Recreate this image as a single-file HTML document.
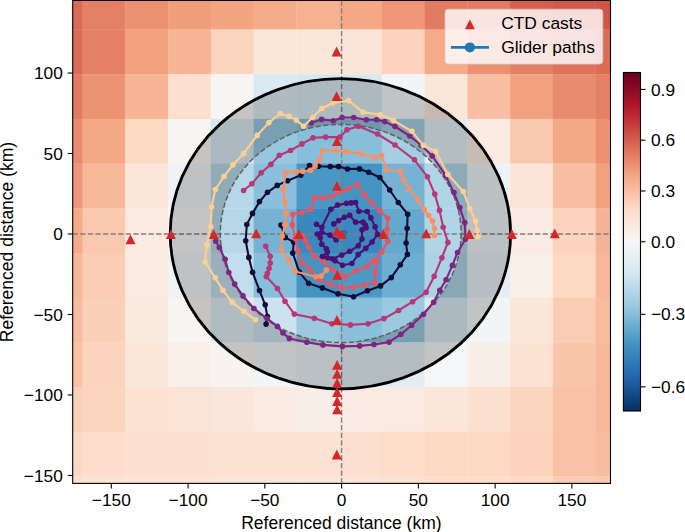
<!DOCTYPE html>
<html><head><meta charset="utf-8"><style>
html,body{margin:0;padding:0;background:#fff;}
body{width:685px;height:532px;overflow:hidden;}
svg{display:block;}
text{font-family:"Liberation Sans",sans-serif;fill:#000;}
</style></head><body>
<svg width="685" height="532" viewBox="0 0 685 532" font-family="Liberation Sans, sans-serif">
<rect width="685" height="532" fill="#fff"/>
<defs><clipPath id="ax"><rect x="72.7" y="0.4" width="537.8" height="483.0"/></clipPath></defs>
<g clip-path="url(#ax)">
<rect x="72.70" y="-0.60" width="10.20" height="30.40" fill="#db6b55"/>
<rect x="82.60" y="-0.60" width="43.05" height="30.40" fill="#e48066"/>
<rect x="125.35" y="-0.60" width="43.05" height="30.40" fill="#eb9172"/>
<rect x="168.10" y="-0.60" width="43.05" height="30.40" fill="#f19e7d"/>
<rect x="210.85" y="-0.60" width="43.05" height="30.40" fill="#f3a481"/>
<rect x="253.60" y="-0.60" width="43.05" height="30.40" fill="#f5ac8b"/>
<rect x="296.35" y="-0.60" width="43.05" height="30.40" fill="#f6b191"/>
<rect x="339.10" y="-0.60" width="43.05" height="30.40" fill="#f5a886"/>
<rect x="381.85" y="-0.60" width="43.05" height="30.40" fill="#ee9677"/>
<rect x="424.60" y="-0.60" width="43.05" height="30.40" fill="#e27b62"/>
<rect x="467.35" y="-0.60" width="43.05" height="30.40" fill="#e27b62"/>
<rect x="510.10" y="-0.60" width="43.05" height="30.40" fill="#d6604d"/>
<rect x="552.85" y="-0.60" width="43.05" height="30.40" fill="#d25849"/>
<rect x="595.60" y="-0.60" width="15.20" height="30.40" fill="#d05548"/>
<rect x="72.70" y="29.50" width="10.20" height="44.99" fill="#db6b55"/>
<rect x="82.60" y="29.50" width="43.05" height="44.99" fill="#e48066"/>
<rect x="125.35" y="29.50" width="43.05" height="44.99" fill="#f2a17f"/>
<rect x="168.10" y="29.50" width="43.05" height="44.99" fill="#f7b596"/>
<rect x="210.85" y="29.50" width="43.05" height="44.99" fill="#fcd5bf"/>
<rect x="253.60" y="29.50" width="43.05" height="44.99" fill="#fbe6da"/>
<rect x="296.35" y="29.50" width="43.05" height="44.99" fill="#fbe6da"/>
<rect x="339.10" y="29.50" width="43.05" height="44.99" fill="#fbe5d8"/>
<rect x="381.85" y="29.50" width="43.05" height="44.99" fill="#fcd3bc"/>
<rect x="424.60" y="29.50" width="43.05" height="44.99" fill="#f5aa89"/>
<rect x="467.35" y="29.50" width="43.05" height="44.99" fill="#eb9172"/>
<rect x="510.10" y="29.50" width="43.05" height="44.99" fill="#e48066"/>
<rect x="552.85" y="29.50" width="43.05" height="44.99" fill="#de735c"/>
<rect x="595.60" y="29.50" width="15.20" height="44.99" fill="#db6b55"/>
<rect x="72.70" y="74.19" width="10.20" height="44.99" fill="#e27b62"/>
<rect x="82.60" y="74.19" width="43.05" height="44.99" fill="#ec9374"/>
<rect x="125.35" y="74.19" width="43.05" height="44.99" fill="#f7b596"/>
<rect x="168.10" y="74.19" width="43.05" height="44.99" fill="#fcdfcf"/>
<rect x="210.85" y="74.19" width="43.05" height="44.99" fill="#f7f5f4"/>
<rect x="253.60" y="74.19" width="43.05" height="44.99" fill="#dbeaf2"/>
<rect x="296.35" y="74.19" width="43.05" height="44.99" fill="#d7e8f1"/>
<rect x="339.10" y="74.19" width="43.05" height="44.99" fill="#d8e9f1"/>
<rect x="381.85" y="74.19" width="43.05" height="44.99" fill="#f2f5f6"/>
<rect x="424.60" y="74.19" width="43.05" height="44.99" fill="#fbe6da"/>
<rect x="467.35" y="74.19" width="43.05" height="44.99" fill="#f8bfa4"/>
<rect x="510.10" y="74.19" width="43.05" height="44.99" fill="#f2a17f"/>
<rect x="552.85" y="74.19" width="43.05" height="44.99" fill="#e98b6e"/>
<rect x="595.60" y="74.19" width="15.20" height="44.99" fill="#e48066"/>
<rect x="72.70" y="118.88" width="10.20" height="44.99" fill="#e98b6e"/>
<rect x="82.60" y="118.88" width="43.05" height="44.99" fill="#f5a886"/>
<rect x="125.35" y="118.88" width="43.05" height="44.99" fill="#fdd9c4"/>
<rect x="168.10" y="118.88" width="43.05" height="44.99" fill="#f8f4f2"/>
<rect x="210.85" y="118.88" width="43.05" height="44.99" fill="#d7e8f1"/>
<rect x="253.60" y="118.88" width="43.05" height="44.99" fill="#96c7df"/>
<rect x="296.35" y="118.88" width="43.05" height="44.99" fill="#87beda"/>
<rect x="339.10" y="118.88" width="43.05" height="44.99" fill="#87beda"/>
<rect x="381.85" y="118.88" width="43.05" height="44.99" fill="#a5cee3"/>
<rect x="424.60" y="118.88" width="43.05" height="44.99" fill="#e1edf3"/>
<rect x="467.35" y="118.88" width="43.05" height="44.99" fill="#faeae1"/>
<rect x="510.10" y="118.88" width="43.05" height="44.99" fill="#fac8af"/>
<rect x="552.85" y="118.88" width="43.05" height="44.99" fill="#f5a886"/>
<rect x="595.60" y="118.88" width="15.20" height="44.99" fill="#eb9172"/>
<rect x="72.70" y="163.57" width="10.20" height="44.99" fill="#ee9677"/>
<rect x="82.60" y="163.57" width="43.05" height="44.99" fill="#f7b799"/>
<rect x="125.35" y="163.57" width="43.05" height="44.99" fill="#fbe6da"/>
<rect x="168.10" y="163.57" width="43.05" height="44.99" fill="#eff3f5"/>
<rect x="210.85" y="163.57" width="43.05" height="44.99" fill="#b6d7e8"/>
<rect x="253.60" y="163.57" width="43.05" height="44.99" fill="#8ac0db"/>
<rect x="296.35" y="163.57" width="43.05" height="44.99" fill="#4997c5"/>
<rect x="339.10" y="163.57" width="43.05" height="44.99" fill="#4393c3"/>
<rect x="381.85" y="163.57" width="43.05" height="44.99" fill="#75b2d4"/>
<rect x="424.60" y="163.57" width="43.05" height="44.99" fill="#b1d5e7"/>
<rect x="467.35" y="163.57" width="43.05" height="44.99" fill="#ecf2f5"/>
<rect x="510.10" y="163.57" width="43.05" height="44.99" fill="#fbe5d8"/>
<rect x="552.85" y="163.57" width="43.05" height="44.99" fill="#f8bfa4"/>
<rect x="595.60" y="163.57" width="15.20" height="44.99" fill="#f2a17f"/>
<rect x="72.70" y="208.26" width="10.20" height="44.99" fill="#f5aa89"/>
<rect x="82.60" y="208.26" width="43.05" height="44.99" fill="#fac8af"/>
<rect x="125.35" y="208.26" width="43.05" height="44.99" fill="#faeae1"/>
<rect x="168.10" y="208.26" width="43.05" height="44.99" fill="#f7f6f6"/>
<rect x="210.85" y="208.26" width="43.05" height="44.99" fill="#b6d7e8"/>
<rect x="253.60" y="208.26" width="43.05" height="44.99" fill="#75b2d4"/>
<rect x="296.35" y="208.26" width="43.05" height="44.99" fill="#3b88be"/>
<rect x="339.10" y="208.26" width="43.05" height="44.99" fill="#3b88be"/>
<rect x="381.85" y="208.26" width="43.05" height="44.99" fill="#65a9cf"/>
<rect x="424.60" y="208.26" width="43.05" height="44.99" fill="#b1d5e7"/>
<rect x="467.35" y="208.26" width="43.05" height="44.99" fill="#e9f0f4"/>
<rect x="510.10" y="208.26" width="43.05" height="44.99" fill="#f9ebe3"/>
<rect x="552.85" y="208.26" width="43.05" height="44.99" fill="#fcd3bc"/>
<rect x="595.60" y="208.26" width="15.20" height="44.99" fill="#f6b394"/>
<rect x="72.70" y="252.95" width="10.20" height="44.99" fill="#f7b799"/>
<rect x="82.60" y="252.95" width="43.05" height="44.99" fill="#fbccb4"/>
<rect x="125.35" y="252.95" width="43.05" height="44.99" fill="#faeae1"/>
<rect x="168.10" y="252.95" width="43.05" height="44.99" fill="#eff3f5"/>
<rect x="210.85" y="252.95" width="43.05" height="44.99" fill="#c2ddec"/>
<rect x="253.60" y="252.95" width="43.05" height="44.99" fill="#87beda"/>
<rect x="296.35" y="252.95" width="43.05" height="44.99" fill="#4393c3"/>
<rect x="339.10" y="252.95" width="43.05" height="44.99" fill="#4c99c6"/>
<rect x="381.85" y="252.95" width="43.05" height="44.99" fill="#6eaed2"/>
<rect x="424.60" y="252.95" width="43.05" height="44.99" fill="#acd2e5"/>
<rect x="467.35" y="252.95" width="43.05" height="44.99" fill="#e4eef4"/>
<rect x="510.10" y="252.95" width="43.05" height="44.99" fill="#f9efe9"/>
<rect x="552.85" y="252.95" width="43.05" height="44.99" fill="#fdd9c4"/>
<rect x="595.60" y="252.95" width="15.20" height="44.99" fill="#f7b799"/>
<rect x="72.70" y="297.64" width="10.20" height="44.99" fill="#f8bda1"/>
<rect x="82.60" y="297.64" width="43.05" height="44.99" fill="#fbd0b9"/>
<rect x="125.35" y="297.64" width="43.05" height="44.99" fill="#fae9df"/>
<rect x="168.10" y="297.64" width="43.05" height="44.99" fill="#f8f4f2"/>
<rect x="210.85" y="297.64" width="43.05" height="44.99" fill="#deebf2"/>
<rect x="253.60" y="297.64" width="43.05" height="44.99" fill="#cce2ef"/>
<rect x="296.35" y="297.64" width="43.05" height="44.99" fill="#9bc9e0"/>
<rect x="339.10" y="297.64" width="43.05" height="44.99" fill="#8ac0db"/>
<rect x="381.85" y="297.64" width="43.05" height="44.99" fill="#9bc9e0"/>
<rect x="424.60" y="297.64" width="43.05" height="44.99" fill="#d7e8f1"/>
<rect x="467.35" y="297.64" width="43.05" height="44.99" fill="#f2f5f6"/>
<rect x="510.10" y="297.64" width="43.05" height="44.99" fill="#fbe6da"/>
<rect x="552.85" y="297.64" width="43.05" height="44.99" fill="#fbccb4"/>
<rect x="595.60" y="297.64" width="15.20" height="44.99" fill="#f8bb9e"/>
<rect x="72.70" y="342.33" width="10.20" height="44.99" fill="#f9c2a7"/>
<rect x="82.60" y="342.33" width="43.05" height="44.99" fill="#fcd3bc"/>
<rect x="125.35" y="342.33" width="43.05" height="44.99" fill="#fbe6da"/>
<rect x="168.10" y="342.33" width="43.05" height="44.99" fill="#f9efe9"/>
<rect x="210.85" y="342.33" width="43.05" height="44.99" fill="#f8f3f0"/>
<rect x="253.60" y="342.33" width="43.05" height="44.99" fill="#f2f5f6"/>
<rect x="296.35" y="342.33" width="43.05" height="44.99" fill="#e9f0f4"/>
<rect x="339.10" y="342.33" width="43.05" height="44.99" fill="#e1edf3"/>
<rect x="381.85" y="342.33" width="43.05" height="44.99" fill="#e1edf3"/>
<rect x="424.60" y="342.33" width="43.05" height="44.99" fill="#f5f6f7"/>
<rect x="467.35" y="342.33" width="43.05" height="44.99" fill="#f9eee7"/>
<rect x="510.10" y="342.33" width="43.05" height="44.99" fill="#fce2d2"/>
<rect x="552.85" y="342.33" width="43.05" height="44.99" fill="#f9c6ac"/>
<rect x="595.60" y="342.33" width="15.20" height="44.99" fill="#f7b799"/>
<rect x="72.70" y="387.02" width="10.20" height="44.99" fill="#fbd0b9"/>
<rect x="82.60" y="387.02" width="43.05" height="44.99" fill="#fcd5bf"/>
<rect x="125.35" y="387.02" width="43.05" height="44.99" fill="#fce2d2"/>
<rect x="168.10" y="387.02" width="43.05" height="44.99" fill="#fbe4d6"/>
<rect x="210.85" y="387.02" width="43.05" height="44.99" fill="#fae7dc"/>
<rect x="253.60" y="387.02" width="43.05" height="44.99" fill="#faeae1"/>
<rect x="296.35" y="387.02" width="43.05" height="44.99" fill="#f9eee7"/>
<rect x="339.10" y="387.02" width="43.05" height="44.99" fill="#f9ebe3"/>
<rect x="381.85" y="387.02" width="43.05" height="44.99" fill="#faeae1"/>
<rect x="424.60" y="387.02" width="43.05" height="44.99" fill="#fbe6da"/>
<rect x="467.35" y="387.02" width="43.05" height="44.99" fill="#fce0d0"/>
<rect x="510.10" y="387.02" width="43.05" height="44.99" fill="#fcd5bf"/>
<rect x="552.85" y="387.02" width="43.05" height="44.99" fill="#f9c2a7"/>
<rect x="595.60" y="387.02" width="15.20" height="44.99" fill="#f7b799"/>
<rect x="72.70" y="431.71" width="10.20" height="44.99" fill="#fdd9c4"/>
<rect x="82.60" y="431.71" width="43.05" height="44.99" fill="#fdddcb"/>
<rect x="125.35" y="431.71" width="43.05" height="44.99" fill="#fcdfcf"/>
<rect x="168.10" y="431.71" width="43.05" height="44.99" fill="#fce0d0"/>
<rect x="210.85" y="431.71" width="43.05" height="44.99" fill="#fce2d2"/>
<rect x="253.60" y="431.71" width="43.05" height="44.99" fill="#fce2d2"/>
<rect x="296.35" y="431.71" width="43.05" height="44.99" fill="#fce2d2"/>
<rect x="339.10" y="431.71" width="43.05" height="44.99" fill="#fcdfcf"/>
<rect x="381.85" y="431.71" width="43.05" height="44.99" fill="#fddcc9"/>
<rect x="424.60" y="431.71" width="43.05" height="44.99" fill="#fdd9c4"/>
<rect x="467.35" y="431.71" width="43.05" height="44.99" fill="#fdd9c4"/>
<rect x="510.10" y="431.71" width="43.05" height="44.99" fill="#fcd3bc"/>
<rect x="552.85" y="431.71" width="43.05" height="44.99" fill="#f9c2a7"/>
<rect x="595.60" y="431.71" width="15.20" height="44.99" fill="#f8bda1"/>
<rect x="72.70" y="476.40" width="10.20" height="7.30" fill="#fcdfcf"/>
<rect x="82.60" y="476.40" width="43.05" height="7.30" fill="#fce2d2"/>
<rect x="125.35" y="476.40" width="43.05" height="7.30" fill="#fbe4d6"/>
<rect x="168.10" y="476.40" width="43.05" height="7.30" fill="#fbe4d6"/>
<rect x="210.85" y="476.40" width="43.05" height="7.30" fill="#fbe5d8"/>
<rect x="253.60" y="476.40" width="43.05" height="7.30" fill="#fbe5d8"/>
<rect x="296.35" y="476.40" width="43.05" height="7.30" fill="#fbe5d8"/>
<rect x="339.10" y="476.40" width="43.05" height="7.30" fill="#fbe4d6"/>
<rect x="381.85" y="476.40" width="43.05" height="7.30" fill="#fce0d0"/>
<rect x="424.60" y="476.40" width="43.05" height="7.30" fill="#fdddcb"/>
<rect x="467.35" y="476.40" width="43.05" height="7.30" fill="#fdddcb"/>
<rect x="510.10" y="476.40" width="43.05" height="7.30" fill="#fddbc7"/>
<rect x="552.85" y="476.40" width="43.05" height="7.30" fill="#fbccb4"/>
<rect x="595.60" y="476.40" width="15.20" height="7.30" fill="#fac8af"/>
<line x1="341.6" y1="483.4" x2="341.6" y2="0.4" stroke="#808080" stroke-width="1.43" stroke-dasharray="5.29 2.29" stroke-dashoffset="0"/>
<line x1="72.7" y1="234.0" x2="610.5" y2="234.0" stroke="#808080" stroke-width="1.43" stroke-dasharray="5.29 2.29" stroke-dashoffset="0"/>
<path d="M170.20,233.75 A170.20,155.05 0 1,0 510.60,233.75 A170.20,155.05 0 1,0 170.20,233.75 Z M220.30,233.50 A120.40,109.10 0 1,0 461.10,233.50 A120.40,109.10 0 1,0 220.30,233.50 Z" fill-rule="evenodd" fill="#000000" fill-opacity="0.2"/>
<ellipse cx="340.7" cy="233.5" rx="120.4" ry="109.1" fill="none" stroke="#606060" stroke-width="1.5" stroke-dasharray="5.29 2.29"/>
<ellipse cx="340.4" cy="233.75" rx="170.2" ry="155.05" fill="none" stroke="#000" stroke-width="2.8"/>
<polyline points="281.0,225.1 285.2,237.4 293.7,242.1 292.8,253.1 299.3,272.1 308.6,283.3 322.4,287.9 338.0,293.8 353.6,296.8 367.4,290.8 380.5,285.9 391.3,277.6 400.3,264.8 407.4,254.4 406.1,243.0 407.1,228.3 407.7,214.2 398.3,202.5 389.7,190.0 379.9,177.5 368.7,172.2 359.5,168.9 347.5,169.0 338.6,166.6 330.3,166.6 318.4,166.3 309.5,165.6 300.8,175.1 287.6,180.8 277.3,185.4 267.5,192.3 259.5,201.6 252.5,213.4 246.8,224.5 245.7,240.8 248.8,257.4 252.6,272.3 259.5,290.5 265.2,304.8 267.4,316.6 266.1,324.1" fill="none" stroke="#140e36" stroke-width="2.1" stroke-linejoin="round" stroke-linecap="round"/>
<circle cx="281.0" cy="225.1" r="2.8" fill="#140e36"/>
<circle cx="285.2" cy="237.4" r="2.8" fill="#140e36"/>
<circle cx="293.7" cy="242.1" r="2.8" fill="#140e36"/>
<circle cx="292.8" cy="253.1" r="2.8" fill="#140e36"/>
<circle cx="299.3" cy="272.1" r="2.8" fill="#140e36"/>
<circle cx="308.6" cy="283.3" r="2.8" fill="#140e36"/>
<circle cx="322.4" cy="287.9" r="2.8" fill="#140e36"/>
<circle cx="338.0" cy="293.8" r="2.8" fill="#140e36"/>
<circle cx="353.6" cy="296.8" r="2.8" fill="#140e36"/>
<circle cx="367.4" cy="290.8" r="2.8" fill="#140e36"/>
<circle cx="380.5" cy="285.9" r="2.8" fill="#140e36"/>
<circle cx="391.3" cy="277.6" r="2.8" fill="#140e36"/>
<circle cx="400.3" cy="264.8" r="2.8" fill="#140e36"/>
<circle cx="407.4" cy="254.4" r="2.8" fill="#140e36"/>
<circle cx="406.1" cy="243.0" r="2.8" fill="#140e36"/>
<circle cx="407.1" cy="228.3" r="2.8" fill="#140e36"/>
<circle cx="407.7" cy="214.2" r="2.8" fill="#140e36"/>
<circle cx="398.3" cy="202.5" r="2.8" fill="#140e36"/>
<circle cx="389.7" cy="190.0" r="2.8" fill="#140e36"/>
<circle cx="379.9" cy="177.5" r="2.8" fill="#140e36"/>
<circle cx="368.7" cy="172.2" r="2.8" fill="#140e36"/>
<circle cx="359.5" cy="168.9" r="2.8" fill="#140e36"/>
<circle cx="347.5" cy="169.0" r="2.8" fill="#140e36"/>
<circle cx="338.6" cy="166.6" r="2.8" fill="#140e36"/>
<circle cx="330.3" cy="166.6" r="2.8" fill="#140e36"/>
<circle cx="318.4" cy="166.3" r="2.8" fill="#140e36"/>
<circle cx="309.5" cy="165.6" r="2.8" fill="#140e36"/>
<circle cx="300.8" cy="175.1" r="2.8" fill="#140e36"/>
<circle cx="287.6" cy="180.8" r="2.8" fill="#140e36"/>
<circle cx="277.3" cy="185.4" r="2.8" fill="#140e36"/>
<circle cx="267.5" cy="192.3" r="2.8" fill="#140e36"/>
<circle cx="259.5" cy="201.6" r="2.8" fill="#140e36"/>
<circle cx="252.5" cy="213.4" r="2.8" fill="#140e36"/>
<circle cx="246.8" cy="224.5" r="2.8" fill="#140e36"/>
<circle cx="245.7" cy="240.8" r="2.8" fill="#140e36"/>
<circle cx="248.8" cy="257.4" r="2.8" fill="#140e36"/>
<circle cx="252.6" cy="272.3" r="2.8" fill="#140e36"/>
<circle cx="259.5" cy="290.5" r="2.8" fill="#140e36"/>
<circle cx="265.2" cy="304.8" r="2.8" fill="#140e36"/>
<circle cx="267.4" cy="316.6" r="2.8" fill="#140e36"/>
<circle cx="266.1" cy="324.1" r="2.8" fill="#140e36"/>
<polyline points="333.8,223.9 338.7,220.6 344.3,217.2 349.6,215.3 355.5,222.1 363.0,222.1 365.3,225.1 366.1,227.7 362.0,229.7 362.0,239.0 358.2,245.8 349.7,251.3 341.7,255.1 332.3,258.8 322.5,256.6 327.4,252.1 326.3,248.7 321.8,244.2 320.3,237.8 317.3,234.0 321.8,232.5 330.0,235.1 336.1,240.0" fill="none" stroke="#491078" stroke-width="2.1" stroke-linejoin="round" stroke-linecap="round"/>
<circle cx="333.8" cy="223.9" r="2.8" fill="#491078"/>
<circle cx="338.7" cy="220.6" r="2.8" fill="#491078"/>
<circle cx="344.3" cy="217.2" r="2.8" fill="#491078"/>
<circle cx="349.6" cy="215.3" r="2.8" fill="#491078"/>
<circle cx="355.5" cy="222.1" r="2.8" fill="#491078"/>
<circle cx="363.0" cy="222.1" r="2.8" fill="#491078"/>
<circle cx="365.3" cy="225.1" r="2.8" fill="#491078"/>
<circle cx="366.1" cy="227.7" r="2.8" fill="#491078"/>
<circle cx="362.0" cy="229.7" r="2.8" fill="#491078"/>
<circle cx="362.0" cy="239.0" r="2.8" fill="#491078"/>
<circle cx="358.2" cy="245.8" r="2.8" fill="#491078"/>
<circle cx="349.7" cy="251.3" r="2.8" fill="#491078"/>
<circle cx="341.7" cy="255.1" r="2.8" fill="#491078"/>
<circle cx="332.3" cy="258.8" r="2.8" fill="#491078"/>
<circle cx="322.5" cy="256.6" r="2.8" fill="#491078"/>
<circle cx="327.4" cy="252.1" r="2.8" fill="#491078"/>
<circle cx="326.3" cy="248.7" r="2.8" fill="#491078"/>
<circle cx="321.8" cy="244.2" r="2.8" fill="#491078"/>
<circle cx="320.3" cy="237.8" r="2.8" fill="#491078"/>
<circle cx="317.3" cy="234.0" r="2.8" fill="#491078"/>
<circle cx="321.8" cy="232.5" r="2.8" fill="#491078"/>
<circle cx="330.0" cy="235.1" r="2.8" fill="#491078"/>
<circle cx="336.1" cy="240.0" r="2.8" fill="#491078"/>
<polyline points="316.5,224.3 321.8,227.3 330.8,209.3 337.6,205.1 346.5,203.3 351.1,202.9 355.5,202.5 358.9,211.2 367.2,211.5 370.9,217.9 375.1,226.9 377.6,234.3 372.1,242.0 365.8,248.3 358.2,254.6 351.8,263.5 342.5,265.2 335.1,260.7 327.6,257.7 322.5,256.6" fill="none" stroke="#491078" stroke-width="2.1" stroke-linejoin="round" stroke-linecap="round"/>
<circle cx="316.5" cy="224.3" r="2.8" fill="#491078"/>
<circle cx="321.8" cy="227.3" r="2.8" fill="#491078"/>
<circle cx="330.8" cy="209.3" r="2.8" fill="#491078"/>
<circle cx="337.6" cy="205.1" r="2.8" fill="#491078"/>
<circle cx="346.5" cy="203.3" r="2.8" fill="#491078"/>
<circle cx="351.1" cy="202.9" r="2.8" fill="#491078"/>
<circle cx="355.5" cy="202.5" r="2.8" fill="#491078"/>
<circle cx="358.9" cy="211.2" r="2.8" fill="#491078"/>
<circle cx="367.2" cy="211.5" r="2.8" fill="#491078"/>
<circle cx="370.9" cy="217.9" r="2.8" fill="#491078"/>
<circle cx="375.1" cy="226.9" r="2.8" fill="#491078"/>
<circle cx="377.6" cy="234.3" r="2.8" fill="#491078"/>
<circle cx="372.1" cy="242.0" r="2.8" fill="#491078"/>
<circle cx="365.8" cy="248.3" r="2.8" fill="#491078"/>
<circle cx="358.2" cy="254.6" r="2.8" fill="#491078"/>
<circle cx="351.8" cy="263.5" r="2.8" fill="#491078"/>
<circle cx="342.5" cy="265.2" r="2.8" fill="#491078"/>
<circle cx="335.1" cy="260.7" r="2.8" fill="#491078"/>
<circle cx="327.6" cy="257.7" r="2.8" fill="#491078"/>
<circle cx="322.5" cy="256.6" r="2.8" fill="#491078"/>
<polyline points="311.1,122.9 321.6,119.4 333.4,120.7 342.1,117.5 353.7,117.5 366.3,119.8 376.5,119.7 384.7,121.6 395.0,126.5 409.8,136.0 421.2,145.3 432.2,155.9 445.3,175.0 454.0,192.6 459.8,207.6 464.8,222.6 465.4,239.2 457.5,252.5 452.4,265.4 446.1,279.7 439.8,290.4 433.6,302.3 423.5,314.3 411.7,325.2 400.9,334.2 389.1,342.1 374.0,344.5 359.7,345.9 342.4,346.4 322.9,344.9 306.8,342.3 289.3,338.4 283.0,333.0 277.4,326.4 267.1,318.5 253.9,308.5 243.0,295.9 234.7,284.1 228.8,272.5 225.1,259.3 219.3,247.4 215.8,241.3" fill="none" stroke="#7e2482" stroke-width="2.1" stroke-linejoin="round" stroke-linecap="round"/>
<circle cx="311.1" cy="122.9" r="2.8" fill="#7e2482"/>
<circle cx="321.6" cy="119.4" r="2.8" fill="#7e2482"/>
<circle cx="333.4" cy="120.7" r="2.8" fill="#7e2482"/>
<circle cx="342.1" cy="117.5" r="2.8" fill="#7e2482"/>
<circle cx="353.7" cy="117.5" r="2.8" fill="#7e2482"/>
<circle cx="366.3" cy="119.8" r="2.8" fill="#7e2482"/>
<circle cx="376.5" cy="119.7" r="2.8" fill="#7e2482"/>
<circle cx="384.7" cy="121.6" r="2.8" fill="#7e2482"/>
<circle cx="395.0" cy="126.5" r="2.8" fill="#7e2482"/>
<circle cx="409.8" cy="136.0" r="2.8" fill="#7e2482"/>
<circle cx="421.2" cy="145.3" r="2.8" fill="#7e2482"/>
<circle cx="432.2" cy="155.9" r="2.8" fill="#7e2482"/>
<circle cx="445.3" cy="175.0" r="2.8" fill="#7e2482"/>
<circle cx="454.0" cy="192.6" r="2.8" fill="#7e2482"/>
<circle cx="459.8" cy="207.6" r="2.8" fill="#7e2482"/>
<circle cx="464.8" cy="222.6" r="2.8" fill="#7e2482"/>
<circle cx="465.4" cy="239.2" r="2.8" fill="#7e2482"/>
<circle cx="457.5" cy="252.5" r="2.8" fill="#7e2482"/>
<circle cx="452.4" cy="265.4" r="2.8" fill="#7e2482"/>
<circle cx="446.1" cy="279.7" r="2.8" fill="#7e2482"/>
<circle cx="439.8" cy="290.4" r="2.8" fill="#7e2482"/>
<circle cx="433.6" cy="302.3" r="2.8" fill="#7e2482"/>
<circle cx="423.5" cy="314.3" r="2.8" fill="#7e2482"/>
<circle cx="411.7" cy="325.2" r="2.8" fill="#7e2482"/>
<circle cx="400.9" cy="334.2" r="2.8" fill="#7e2482"/>
<circle cx="389.1" cy="342.1" r="2.8" fill="#7e2482"/>
<circle cx="374.0" cy="344.5" r="2.8" fill="#7e2482"/>
<circle cx="359.7" cy="345.9" r="2.8" fill="#7e2482"/>
<circle cx="342.4" cy="346.4" r="2.8" fill="#7e2482"/>
<circle cx="322.9" cy="344.9" r="2.8" fill="#7e2482"/>
<circle cx="306.8" cy="342.3" r="2.8" fill="#7e2482"/>
<circle cx="289.3" cy="338.4" r="2.8" fill="#7e2482"/>
<circle cx="283.0" cy="333.0" r="2.8" fill="#7e2482"/>
<circle cx="277.4" cy="326.4" r="2.8" fill="#7e2482"/>
<circle cx="267.1" cy="318.5" r="2.8" fill="#7e2482"/>
<circle cx="253.9" cy="308.5" r="2.8" fill="#7e2482"/>
<circle cx="243.0" cy="295.9" r="2.8" fill="#7e2482"/>
<circle cx="234.7" cy="284.1" r="2.8" fill="#7e2482"/>
<circle cx="228.8" cy="272.5" r="2.8" fill="#7e2482"/>
<circle cx="225.1" cy="259.3" r="2.8" fill="#7e2482"/>
<circle cx="219.3" cy="247.4" r="2.8" fill="#7e2482"/>
<circle cx="215.8" cy="241.3" r="2.8" fill="#7e2482"/>
<polyline points="243.6,190.5 251.9,183.7 261.2,172.7 270.9,164.4 279.3,155.2 290.5,150.5 301.9,143.9 313.0,137.8 325.7,137.1 340.0,137.1 347.0,129.8 358.3,126.3 377.5,134.0 395.0,145.0 414.4,159.8 427.4,176.7 434.8,194.1 439.5,210.4 443.2,227.3 447.9,242.4 441.9,257.7 434.2,276.3 426.1,292.3 412.6,301.7 398.5,310.5 384.0,318.6 368.0,323.8 350.4,324.9 331.9,323.8 314.3,318.3 294.3,314.1 285.0,301.2 277.5,288.5 266.3,276.6 267.4,273.2 269.1,268.2 270.2,263.1 270.2,256.3 265.7,246.2" fill="none" stroke="#b73779" stroke-width="2.1" stroke-linejoin="round" stroke-linecap="round"/>
<circle cx="243.6" cy="190.5" r="2.8" fill="#b73779"/>
<circle cx="251.9" cy="183.7" r="2.8" fill="#b73779"/>
<circle cx="261.2" cy="172.7" r="2.8" fill="#b73779"/>
<circle cx="270.9" cy="164.4" r="2.8" fill="#b73779"/>
<circle cx="279.3" cy="155.2" r="2.8" fill="#b73779"/>
<circle cx="290.5" cy="150.5" r="2.8" fill="#b73779"/>
<circle cx="301.9" cy="143.9" r="2.8" fill="#b73779"/>
<circle cx="313.0" cy="137.8" r="2.8" fill="#b73779"/>
<circle cx="325.7" cy="137.1" r="2.8" fill="#b73779"/>
<circle cx="340.0" cy="137.1" r="2.8" fill="#b73779"/>
<circle cx="347.0" cy="129.8" r="2.8" fill="#b73779"/>
<circle cx="358.3" cy="126.3" r="2.8" fill="#b73779"/>
<circle cx="377.5" cy="134.0" r="2.8" fill="#b73779"/>
<circle cx="395.0" cy="145.0" r="2.8" fill="#b73779"/>
<circle cx="414.4" cy="159.8" r="2.8" fill="#b73779"/>
<circle cx="427.4" cy="176.7" r="2.8" fill="#b73779"/>
<circle cx="434.8" cy="194.1" r="2.8" fill="#b73779"/>
<circle cx="439.5" cy="210.4" r="2.8" fill="#b73779"/>
<circle cx="443.2" cy="227.3" r="2.8" fill="#b73779"/>
<circle cx="447.9" cy="242.4" r="2.8" fill="#b73779"/>
<circle cx="441.9" cy="257.7" r="2.8" fill="#b73779"/>
<circle cx="434.2" cy="276.3" r="2.8" fill="#b73779"/>
<circle cx="426.1" cy="292.3" r="2.8" fill="#b73779"/>
<circle cx="412.6" cy="301.7" r="2.8" fill="#b73779"/>
<circle cx="398.5" cy="310.5" r="2.8" fill="#b73779"/>
<circle cx="384.0" cy="318.6" r="2.8" fill="#b73779"/>
<circle cx="368.0" cy="323.8" r="2.8" fill="#b73779"/>
<circle cx="350.4" cy="324.9" r="2.8" fill="#b73779"/>
<circle cx="331.9" cy="323.8" r="2.8" fill="#b73779"/>
<circle cx="314.3" cy="318.3" r="2.8" fill="#b73779"/>
<circle cx="294.3" cy="314.1" r="2.8" fill="#b73779"/>
<circle cx="285.0" cy="301.2" r="2.8" fill="#b73779"/>
<circle cx="277.5" cy="288.5" r="2.8" fill="#b73779"/>
<circle cx="266.3" cy="276.6" r="2.8" fill="#b73779"/>
<circle cx="267.4" cy="273.2" r="2.8" fill="#b73779"/>
<circle cx="269.1" cy="268.2" r="2.8" fill="#b73779"/>
<circle cx="270.2" cy="263.1" r="2.8" fill="#b73779"/>
<circle cx="270.2" cy="256.3" r="2.8" fill="#b73779"/>
<circle cx="265.7" cy="246.2" r="2.8" fill="#b73779"/>
<polyline points="303.0,236.0 305.3,240.7 308.6,247.1 313.8,255.7 324.3,262.2 333.6,270.1 345.4,276.7 356.2,270.8 366.7,266.8 373.3,260.9 381.8,251.7 387.8,241.2 387.1,229.5 387.8,218.3 379.9,211.1 371.3,202.5 364.1,194.6 357.5,184.5 348.0,188.7 339.5,192.0 330.9,196.6 321.6,197.9 314.3,197.9 310.9,209.2 302.0,212.6 292.8,214.3 292.3,224.9 295.1,238.5 298.0,251.1 302.6,263.6 309.9,269.5 318.4,279.3 330.3,283.9 341.4,287.9 352.9,287.2 364.1,285.3 374.6,282.6 375.3,272.1 376.6,261.6" fill="none" stroke="#e95462" stroke-width="2.1" stroke-linejoin="round" stroke-linecap="round"/>
<circle cx="303.0" cy="236.0" r="2.8" fill="#e95462"/>
<circle cx="305.3" cy="240.7" r="2.8" fill="#e95462"/>
<circle cx="308.6" cy="247.1" r="2.8" fill="#e95462"/>
<circle cx="313.8" cy="255.7" r="2.8" fill="#e95462"/>
<circle cx="324.3" cy="262.2" r="2.8" fill="#e95462"/>
<circle cx="333.6" cy="270.1" r="2.8" fill="#e95462"/>
<circle cx="345.4" cy="276.7" r="2.8" fill="#e95462"/>
<circle cx="356.2" cy="270.8" r="2.8" fill="#e95462"/>
<circle cx="366.7" cy="266.8" r="2.8" fill="#e95462"/>
<circle cx="373.3" cy="260.9" r="2.8" fill="#e95462"/>
<circle cx="381.8" cy="251.7" r="2.8" fill="#e95462"/>
<circle cx="387.8" cy="241.2" r="2.8" fill="#e95462"/>
<circle cx="387.1" cy="229.5" r="2.8" fill="#e95462"/>
<circle cx="387.8" cy="218.3" r="2.8" fill="#e95462"/>
<circle cx="379.9" cy="211.1" r="2.8" fill="#e95462"/>
<circle cx="371.3" cy="202.5" r="2.8" fill="#e95462"/>
<circle cx="364.1" cy="194.6" r="2.8" fill="#e95462"/>
<circle cx="357.5" cy="184.5" r="2.8" fill="#e95462"/>
<circle cx="348.0" cy="188.7" r="2.8" fill="#e95462"/>
<circle cx="339.5" cy="192.0" r="2.8" fill="#e95462"/>
<circle cx="330.9" cy="196.6" r="2.8" fill="#e95462"/>
<circle cx="321.6" cy="197.9" r="2.8" fill="#e95462"/>
<circle cx="314.3" cy="197.9" r="2.8" fill="#e95462"/>
<circle cx="310.9" cy="209.2" r="2.8" fill="#e95462"/>
<circle cx="302.0" cy="212.6" r="2.8" fill="#e95462"/>
<circle cx="292.8" cy="214.3" r="2.8" fill="#e95462"/>
<circle cx="292.3" cy="224.9" r="2.8" fill="#e95462"/>
<circle cx="295.1" cy="238.5" r="2.8" fill="#e95462"/>
<circle cx="298.0" cy="251.1" r="2.8" fill="#e95462"/>
<circle cx="302.6" cy="263.6" r="2.8" fill="#e95462"/>
<circle cx="309.9" cy="269.5" r="2.8" fill="#e95462"/>
<circle cx="318.4" cy="279.3" r="2.8" fill="#e95462"/>
<circle cx="330.3" cy="283.9" r="2.8" fill="#e95462"/>
<circle cx="341.4" cy="287.9" r="2.8" fill="#e95462"/>
<circle cx="352.9" cy="287.2" r="2.8" fill="#e95462"/>
<circle cx="364.1" cy="285.3" r="2.8" fill="#e95462"/>
<circle cx="374.6" cy="282.6" r="2.8" fill="#e95462"/>
<circle cx="375.3" cy="272.1" r="2.8" fill="#e95462"/>
<circle cx="376.6" cy="261.6" r="2.8" fill="#e95462"/>
<polyline points="434.4,235.4 434.4,228.6 432.5,221.1 428.6,215.5 424.4,209.8 417.9,199.7 408.6,188.2 403.5,179.5 400.7,171.2 386.7,169.7 381.6,155.3 374.3,157.8 360.9,153.6 346.4,151.6 335.0,150.5 322.6,150.5 319.5,159.8 315.1,166.1 310.5,170.3 302.6,171.3 296.7,171.8 285.5,172.9 283.6,189.3 284.9,201.2 285.8,213.0 284.8,224.7 282.3,236.1 281.4,249.7 288.5,260.0 295.2,271.5 315.8,276.7 321.1,276.1 326.3,270.1" fill="none" stroke="#fc9065" stroke-width="2.1" stroke-linejoin="round" stroke-linecap="round"/>
<circle cx="434.4" cy="235.4" r="2.8" fill="#fc9065"/>
<circle cx="434.4" cy="228.6" r="2.8" fill="#fc9065"/>
<circle cx="432.5" cy="221.1" r="2.8" fill="#fc9065"/>
<circle cx="428.6" cy="215.5" r="2.8" fill="#fc9065"/>
<circle cx="424.4" cy="209.8" r="2.8" fill="#fc9065"/>
<circle cx="417.9" cy="199.7" r="2.8" fill="#fc9065"/>
<circle cx="408.6" cy="188.2" r="2.8" fill="#fc9065"/>
<circle cx="403.5" cy="179.5" r="2.8" fill="#fc9065"/>
<circle cx="400.7" cy="171.2" r="2.8" fill="#fc9065"/>
<circle cx="386.7" cy="169.7" r="2.8" fill="#fc9065"/>
<circle cx="381.6" cy="155.3" r="2.8" fill="#fc9065"/>
<circle cx="374.3" cy="157.8" r="2.8" fill="#fc9065"/>
<circle cx="360.9" cy="153.6" r="2.8" fill="#fc9065"/>
<circle cx="346.4" cy="151.6" r="2.8" fill="#fc9065"/>
<circle cx="335.0" cy="150.5" r="2.8" fill="#fc9065"/>
<circle cx="322.6" cy="150.5" r="2.8" fill="#fc9065"/>
<circle cx="319.5" cy="159.8" r="2.8" fill="#fc9065"/>
<circle cx="315.1" cy="166.1" r="2.8" fill="#fc9065"/>
<circle cx="310.5" cy="170.3" r="2.8" fill="#fc9065"/>
<circle cx="302.6" cy="171.3" r="2.8" fill="#fc9065"/>
<circle cx="296.7" cy="171.8" r="2.8" fill="#fc9065"/>
<circle cx="285.5" cy="172.9" r="2.8" fill="#fc9065"/>
<circle cx="283.6" cy="189.3" r="2.8" fill="#fc9065"/>
<circle cx="284.9" cy="201.2" r="2.8" fill="#fc9065"/>
<circle cx="285.8" cy="213.0" r="2.8" fill="#fc9065"/>
<circle cx="284.8" cy="224.7" r="2.8" fill="#fc9065"/>
<circle cx="282.3" cy="236.1" r="2.8" fill="#fc9065"/>
<circle cx="281.4" cy="249.7" r="2.8" fill="#fc9065"/>
<circle cx="288.5" cy="260.0" r="2.8" fill="#fc9065"/>
<circle cx="295.2" cy="271.5" r="2.8" fill="#fc9065"/>
<circle cx="315.8" cy="276.7" r="2.8" fill="#fc9065"/>
<circle cx="321.1" cy="276.1" r="2.8" fill="#fc9065"/>
<circle cx="326.3" cy="270.1" r="2.8" fill="#fc9065"/>
<polyline points="255.4,319.8 244.1,311.4 232.3,302.3 222.9,290.3 215.2,277.7 205.0,261.9 206.9,245.1 210.7,226.7 211.6,207.0 215.3,189.5 224.0,176.5 232.9,165.0 243.6,153.6 257.1,135.4 268.9,122.6 280.2,113.5 289.1,116.4 296.3,120.1 303.6,126.3 312.9,117.2 321.8,108.5 332.8,103.0 348.5,100.6 363.0,112.1 380.2,114.8 393.5,120.3 411.9,131.3 423.3,145.3 435.7,151.6 447.8,174.2 463.3,191.5 469.9,208.5 475.6,221.1 477.1,230.5 478.0,236.7" fill="none" stroke="#fecf92" stroke-width="2.1" stroke-linejoin="round" stroke-linecap="round"/>
<circle cx="255.4" cy="319.8" r="2.8" fill="#fecf92"/>
<circle cx="244.1" cy="311.4" r="2.8" fill="#fecf92"/>
<circle cx="232.3" cy="302.3" r="2.8" fill="#fecf92"/>
<circle cx="222.9" cy="290.3" r="2.8" fill="#fecf92"/>
<circle cx="215.2" cy="277.7" r="2.8" fill="#fecf92"/>
<circle cx="205.0" cy="261.9" r="2.8" fill="#fecf92"/>
<circle cx="206.9" cy="245.1" r="2.8" fill="#fecf92"/>
<circle cx="210.7" cy="226.7" r="2.8" fill="#fecf92"/>
<circle cx="211.6" cy="207.0" r="2.8" fill="#fecf92"/>
<circle cx="215.3" cy="189.5" r="2.8" fill="#fecf92"/>
<circle cx="224.0" cy="176.5" r="2.8" fill="#fecf92"/>
<circle cx="232.9" cy="165.0" r="2.8" fill="#fecf92"/>
<circle cx="243.6" cy="153.6" r="2.8" fill="#fecf92"/>
<circle cx="257.1" cy="135.4" r="2.8" fill="#fecf92"/>
<circle cx="268.9" cy="122.6" r="2.8" fill="#fecf92"/>
<circle cx="280.2" cy="113.5" r="2.8" fill="#fecf92"/>
<circle cx="289.1" cy="116.4" r="2.8" fill="#fecf92"/>
<circle cx="296.3" cy="120.1" r="2.8" fill="#fecf92"/>
<circle cx="303.6" cy="126.3" r="2.8" fill="#fecf92"/>
<circle cx="312.9" cy="117.2" r="2.8" fill="#fecf92"/>
<circle cx="321.8" cy="108.5" r="2.8" fill="#fecf92"/>
<circle cx="332.8" cy="103.0" r="2.8" fill="#fecf92"/>
<circle cx="348.5" cy="100.6" r="2.8" fill="#fecf92"/>
<circle cx="363.0" cy="112.1" r="2.8" fill="#fecf92"/>
<circle cx="380.2" cy="114.8" r="2.8" fill="#fecf92"/>
<circle cx="393.5" cy="120.3" r="2.8" fill="#fecf92"/>
<circle cx="411.9" cy="131.3" r="2.8" fill="#fecf92"/>
<circle cx="423.3" cy="145.3" r="2.8" fill="#fecf92"/>
<circle cx="435.7" cy="151.6" r="2.8" fill="#fecf92"/>
<circle cx="447.8" cy="174.2" r="2.8" fill="#fecf92"/>
<circle cx="463.3" cy="191.5" r="2.8" fill="#fecf92"/>
<circle cx="469.9" cy="208.5" r="2.8" fill="#fecf92"/>
<circle cx="475.6" cy="221.1" r="2.8" fill="#fecf92"/>
<circle cx="477.1" cy="230.5" r="2.8" fill="#fecf92"/>
<circle cx="478.0" cy="236.7" r="2.8" fill="#fecf92"/>
<circle cx="344.8" cy="232.8" r="2.8" fill="#1f77b4"/>
<path d="M130.50,234.50 L135.50,244.30 L125.50,244.30 Z" fill="#d62728"/>
<path d="M170.90,229.20 L175.90,239.00 L165.90,239.00 Z" fill="#d62728"/>
<path d="M213.80,229.20 L218.80,239.00 L208.80,239.00 Z" fill="#d62728"/>
<path d="M256.20,228.40 L261.20,238.20 L251.20,238.20 Z" fill="#d62728"/>
<path d="M298.80,229.10 L303.80,238.90 L293.80,238.90 Z" fill="#d62728"/>
<path d="M337.00,226.30 L342.00,236.10 L332.00,236.10 Z" fill="#d62728"/>
<path d="M341.70,229.20 L346.70,239.00 L336.70,239.00 Z" fill="#d62728"/>
<path d="M383.30,229.10 L388.30,238.90 L378.30,238.90 Z" fill="#d62728"/>
<path d="M426.20,228.40 L431.20,238.20 L421.20,238.20 Z" fill="#d62728"/>
<path d="M469.30,229.10 L474.30,238.90 L464.30,238.90 Z" fill="#d62728"/>
<path d="M511.80,229.10 L516.80,238.90 L506.80,238.90 Z" fill="#d62728"/>
<path d="M554.80,228.40 L559.80,238.20 L549.80,238.20 Z" fill="#d62728"/>
<path d="M336.60,46.60 L341.60,56.40 L331.60,56.40 Z" fill="#d62728"/>
<path d="M336.60,91.30 L341.60,101.10 L331.60,101.10 Z" fill="#d62728"/>
<path d="M336.90,136.30 L341.90,146.10 L331.90,146.10 Z" fill="#d62728"/>
<path d="M336.90,180.90 L341.90,190.70 L331.90,190.70 Z" fill="#d62728"/>
<path d="M337.30,270.00 L342.30,279.80 L332.30,279.80 Z" fill="#d62728"/>
<path d="M336.90,315.00 L341.90,324.80 L331.90,324.80 Z" fill="#d62728"/>
<path d="M337.10,359.90 L342.10,369.70 L332.10,369.70 Z" fill="#d62728"/>
<path d="M337.10,369.00 L342.10,378.80 L332.10,378.80 Z" fill="#d62728"/>
<path d="M337.10,378.00 L342.10,387.80 L332.10,387.80 Z" fill="#d62728"/>
<path d="M337.10,387.10 L342.10,396.90 L332.10,396.90 Z" fill="#d62728"/>
<path d="M337.10,396.10 L342.10,405.90 L332.10,405.90 Z" fill="#d62728"/>
<path d="M337.10,404.40 L342.10,414.20 L332.10,414.20 Z" fill="#d62728"/>
<path d="M336.80,449.60 L341.80,459.40 L331.80,459.40 Z" fill="#d62728"/>
</g>
<rect x="72.7" y="0.4" width="537.8" height="483.0" fill="none" stroke="#000" stroke-width="1.1"/>
<line x1="111.31" y1="483.4" x2="111.31" y2="488.4" stroke="#000" stroke-width="1.1"/>
<text x="111.31" y="506.3" font-size="17.3" text-anchor="middle">−150</text>
<line x1="188.07" y1="483.4" x2="188.07" y2="488.4" stroke="#000" stroke-width="1.1"/>
<text x="188.07" y="506.3" font-size="17.3" text-anchor="middle">−100</text>
<line x1="264.84" y1="483.4" x2="264.84" y2="488.4" stroke="#000" stroke-width="1.1"/>
<text x="264.84" y="506.3" font-size="17.3" text-anchor="middle">−50</text>
<line x1="341.60" y1="483.4" x2="341.60" y2="488.4" stroke="#000" stroke-width="1.1"/>
<text x="341.60" y="506.3" font-size="17.3" text-anchor="middle">0</text>
<line x1="418.37" y1="483.4" x2="418.37" y2="488.4" stroke="#000" stroke-width="1.1"/>
<text x="418.37" y="506.3" font-size="17.3" text-anchor="middle">50</text>
<line x1="495.13" y1="483.4" x2="495.13" y2="488.4" stroke="#000" stroke-width="1.1"/>
<text x="495.13" y="506.3" font-size="17.3" text-anchor="middle">100</text>
<line x1="571.89" y1="483.4" x2="571.89" y2="488.4" stroke="#000" stroke-width="1.1"/>
<text x="571.89" y="506.3" font-size="17.3" text-anchor="middle">150</text>
<line x1="67.7" y1="475.45" x2="72.7" y2="475.45" stroke="#000" stroke-width="1.1"/>
<text x="62.8" y="481.65" font-size="17.3" text-anchor="end">−150</text>
<line x1="67.7" y1="394.97" x2="72.7" y2="394.97" stroke="#000" stroke-width="1.1"/>
<text x="62.8" y="401.17" font-size="17.3" text-anchor="end">−100</text>
<line x1="67.7" y1="314.49" x2="72.7" y2="314.49" stroke="#000" stroke-width="1.1"/>
<text x="62.8" y="320.69" font-size="17.3" text-anchor="end">−50</text>
<line x1="67.7" y1="234.00" x2="72.7" y2="234.00" stroke="#000" stroke-width="1.1"/>
<text x="62.8" y="240.20" font-size="17.3" text-anchor="end">0</text>
<line x1="67.7" y1="153.51" x2="72.7" y2="153.51" stroke="#000" stroke-width="1.1"/>
<text x="62.8" y="159.71" font-size="17.3" text-anchor="end">50</text>
<line x1="67.7" y1="73.03" x2="72.7" y2="73.03" stroke="#000" stroke-width="1.1"/>
<text x="62.8" y="79.23" font-size="17.3" text-anchor="end">100</text>
<text x="341.4" y="528.6" font-size="17.5" text-anchor="middle">Referenced distance (km)</text>
<text transform="translate(13.2,242.0) rotate(-90)" font-size="17.5" text-anchor="middle">Referenced distance (km)</text>
<rect x="445.0" y="9.2" width="157.8" height="54.9" rx="3.3" fill="#fff" fill-opacity="0.8" stroke="#ccc" stroke-opacity="0.8" stroke-width="1.0"/>
<path d="M469.90,19.40 L474.90,29.20 L464.90,29.20 Z" fill="#d62728"/>
<line x1="450.9" y1="47.4" x2="488.9" y2="47.4" stroke="#1f77b4" stroke-width="2.9"/>
<circle cx="469.9" cy="47.4" r="5.0" fill="#1f77b4"/>
<text x="501.15" y="28.9" font-size="17.4">CTD casts</text>
<text x="501.15" y="53.0" font-size="17.4">Glider paths</text>
<defs><linearGradient id="cb" x1="0" y1="0" x2="0" y2="1"><stop offset="0.0000" stop-color="#67001f"/><stop offset="0.0312" stop-color="#7c0722"/><stop offset="0.0625" stop-color="#930e26"/><stop offset="0.0938" stop-color="#ab162a"/><stop offset="0.1250" stop-color="#ba2832"/><stop offset="0.1562" stop-color="#c53e3d"/><stop offset="0.1875" stop-color="#d05548"/><stop offset="0.2188" stop-color="#db6b55"/><stop offset="0.2500" stop-color="#e48066"/><stop offset="0.2812" stop-color="#ee9677"/><stop offset="0.3125" stop-color="#f5aa89"/><stop offset="0.3438" stop-color="#f8bb9e"/><stop offset="0.3750" stop-color="#fbccb4"/><stop offset="0.4062" stop-color="#fddcc9"/><stop offset="0.4375" stop-color="#fbe5d8"/><stop offset="0.4688" stop-color="#f9eee7"/><stop offset="0.5000" stop-color="#f7f6f6"/><stop offset="0.5312" stop-color="#ecf2f5"/><stop offset="0.5625" stop-color="#e0ecf3"/><stop offset="0.5938" stop-color="#d4e6f1"/><stop offset="0.6250" stop-color="#c2ddec"/><stop offset="0.6562" stop-color="#aed3e6"/><stop offset="0.6875" stop-color="#9bc9e0"/><stop offset="0.7188" stop-color="#84bcd9"/><stop offset="0.7500" stop-color="#6bacd1"/><stop offset="0.7812" stop-color="#529dc8"/><stop offset="0.8125" stop-color="#3f8ec0"/><stop offset="0.8438" stop-color="#3480b9"/><stop offset="0.8750" stop-color="#2a71b2"/><stop offset="0.9062" stop-color="#1f63a8"/><stop offset="0.9375" stop-color="#175290"/><stop offset="0.9688" stop-color="#0e4179"/><stop offset="1.0000" stop-color="#053061"/></linearGradient></defs>
<rect x="623.4" y="72.5" width="17.100000000000023" height="338.5" fill="url(#cb)" stroke="#000" stroke-width="1.1"/>
<line x1="640.5" y1="89.42" x2="645.5" y2="89.42" stroke="#000" stroke-width="1.1"/>
<text x="651.0" y="95.62" font-size="17.3">0.9</text>
<line x1="640.5" y1="140.20" x2="645.5" y2="140.20" stroke="#000" stroke-width="1.1"/>
<text x="651.0" y="146.40" font-size="17.3">0.6</text>
<line x1="640.5" y1="190.97" x2="645.5" y2="190.97" stroke="#000" stroke-width="1.1"/>
<text x="651.0" y="197.17" font-size="17.3">0.3</text>
<line x1="640.5" y1="241.75" x2="645.5" y2="241.75" stroke="#000" stroke-width="1.1"/>
<text x="651.0" y="247.95" font-size="17.3">0.0</text>
<line x1="640.5" y1="314.29" x2="645.5" y2="314.29" stroke="#000" stroke-width="1.1"/>
<text x="651.0" y="320.49" font-size="17.3">−0.3</text>
<line x1="640.5" y1="386.82" x2="645.5" y2="386.82" stroke="#000" stroke-width="1.1"/>
<text x="651.0" y="393.02" font-size="17.3">−0.6</text>
</svg>
</body></html>
